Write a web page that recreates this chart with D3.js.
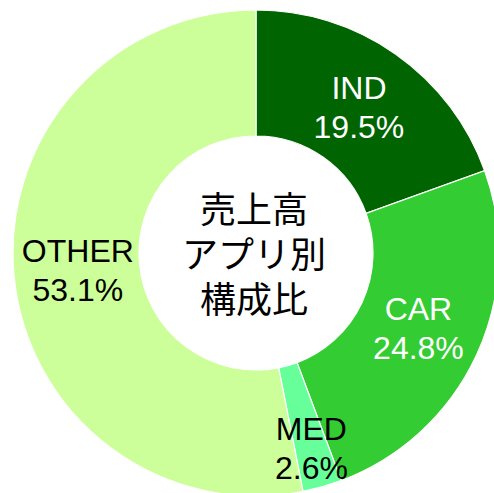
<!DOCTYPE html>
<html>
<head>
<meta charset="utf-8">
<script src="https://cdn.jsdelivr.net/npm/d3@7"></script>
<style>
  html, body { margin: 0; padding: 0; background: #fff; }
  svg { display: block; }
</style>
</head>
<body>
<svg id="chart" width="494" height="493"></svg>
<script>
// slice data (clockwise from 12 o'clock)
const categories = ['IND', 'CAR', 'MED', 'OTHER'];
const shares = [19.5, 24.8, 2.6, 53.1];
const colors = ['#006400', '#33CC33', '#66FF99', '#CCFF99'];
const labelColors = ['#ffffff', '#ffffff', '#000000', '#000000'];
const centerTitle = ['売上高', 'アプリ別', '構成比'];

function drawDonut() {
  const svg = d3.select('#chart');
  const cx = 256, cy = 253;
  const outerR = 243, innerR = 117;

  const g = svg.append('g').attr('transform', `translate(${cx},${cy})`);

  const pie = d3.pie().sort(null).value(d => d.value);
  const slices = pie(categories.map((c, i) => ({ name: c, value: shares[i], i })));

  const arc = d3.arc().innerRadius(innerR).outerRadius(outerR);

  g.selectAll('.slice')
    .data(slices)
    .enter()
    .append('path')
    .attr('class', 'slice')
    .attr('d', arc)
    .attr('fill', d => colors[d.data.i])
    .attr('stroke', '#fff')
    .attr('stroke-width', 1.2);

  // small slices get pushed out a little, like the original
  const labelR = d => (d.endAngle - d.startAngle < 0.2 ? 203 : 179);

  const labels = g.selectAll('.label')
    .data(slices)
    .enter()
    .append('text')
    .attr('class', 'label')
    .attr('transform', d => {
      const a = (d.startAngle + d.endAngle) / 2;
      const r = labelR(d);
      return `translate(${Math.sin(a) * r},${-Math.cos(a) * r})`;
    })
    .style('text-anchor', 'middle')
    .style('font-family', 'Arial, "Liberation Sans", sans-serif')
    .style('font-size', '32px')
    .style('fill', d => labelColors[d.data.i]);

  labels.append('tspan')
    .attr('x', 0)
    .attr('y', -8)
    .text(d => d.data.name);
  labels.append('tspan')
    .attr('x', 0)
    .attr('y', 31)
    .text(d => d.data.value.toFixed(1) + '%');

  // center title
  g.append('text')
    .style('text-anchor', 'middle')
    .style('font-family', '"Noto Sans CJK JP", sans-serif')
    .style('font-size', '36px')
    .style('fill', '#000')
    .selectAll('tspan')
    .data(centerTitle)
    .enter()
    .append('tspan')
    .attr('x', -2)
    .attr('y', (d, i) => -30 + i * 45)
    .text(d => d);
}

drawDonut();
</script>
</body>
</html>
